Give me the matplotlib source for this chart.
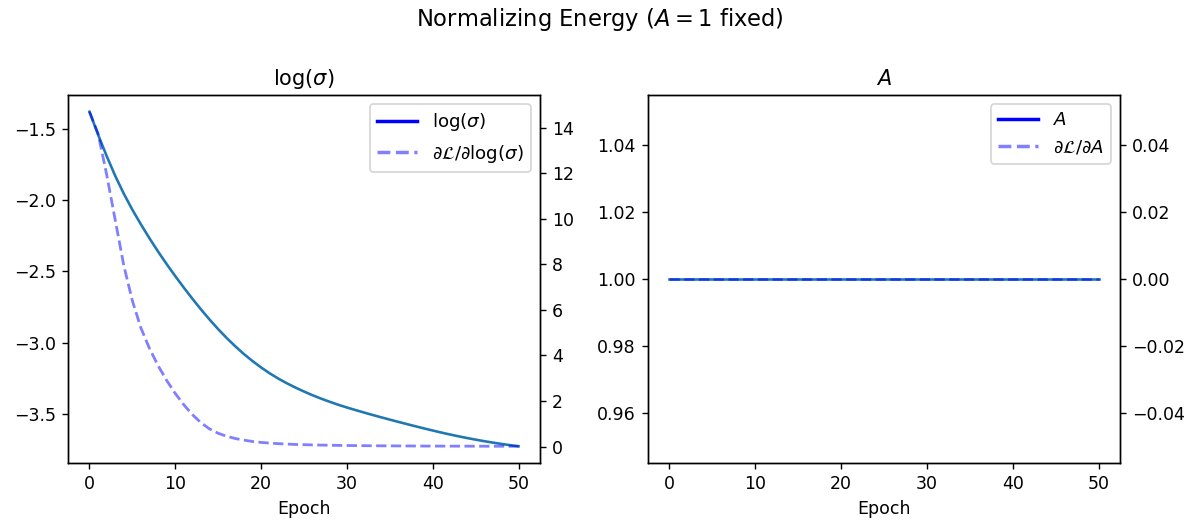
import matplotlib
matplotlib.use("Agg")
import matplotlib.pyplot as plt
from matplotlib.lines import Line2D

epochs = list(range(51))

log_sigma = [-1.380, -1.540, -1.690, -1.830, -1.955, -2.068, -2.171, -2.269, -2.362, -2.450,
             -2.534, -2.615, -2.693, -2.768, -2.839, -2.906, -2.969, -3.027, -3.081, -3.130,
             -3.175, -3.216, -3.253, -3.286, -3.316, -3.344, -3.370, -3.394, -3.416, -3.437,
             -3.456, -3.474, -3.4915, -3.5085, -3.525, -3.5412, -3.5571, -3.5727, -3.588, -3.603,
             -3.6177, -3.6319, -3.6454, -3.6582, -3.6703, -3.6817, -3.6924, -3.7024, -3.7117, -3.7203,
             -3.7282]

grad_log_sigma = [14.70, 13.75, 11.95, 9.95, 7.95, 6.40, 5.20, 4.30, 3.55, 2.90,
                  2.33, 1.83, 1.40, 1.04, 0.77, 0.58, 0.45, 0.35, 0.28, 0.22,
                  0.18, 0.15, 0.125, 0.105, 0.09, 0.08, 0.07, 0.062, 0.055, 0.049,
                  0.044, 0.040, 0.036, 0.033, 0.030, 0.028, 0.026, 0.024, 0.022, 0.020,
                  0.018, 0.017, 0.016, 0.015, 0.014, 0.013, 0.012, 0.011, 0.011, 0.010,
                  0.010]

A_vals = [1.0] * 51
grad_A = [0.0] * 51

DPI = 125
W, H = 1199, 522
fig = plt.figure(figsize=(W / DPI, H / DPI), dpi=DPI)
ax1 = fig.add_axes([68 / W, (H - 463) / H, 472 / W, 368 / H])
ax2 = fig.add_axes([648 / W, (H - 463) / H, 472 / W, 368 / H])

panels = [
    (ax1, log_sigma, grad_log_sigma, r"log($\sigma$)",
     r"log($\sigma$)", r"$\partial\mathcal{L}/\partial\log(\sigma)$"),
    (ax2, A_vals, grad_A, r"$A$", r"$A$", r"$\partial\mathcal{L}/\partial A$"),
]

for ax, vals, grads, title, lab1, lab2 in panels:
    ax.plot(epochs, vals, color="C0", lw=1.5)
    tw = ax.twinx()
    tw.plot(epochs, grads, color="blue", ls="--", lw=1.6, alpha=0.5)
    ax.set_title(title, fontsize=12)
    ax.set_xlabel("Epoch", fontsize=10)
    handles = [Line2D([0], [0], color="blue", lw=2),
               Line2D([0], [0], color="blue", lw=2, ls="--", alpha=0.5)]
    tw.legend(handles, [lab1, lab2], loc="upper right", fontsize=10.5,
              handlelength=2.2)

fig.suptitle(r"Normalizing Energy ($A = 1$ fixed)", fontsize=13, y=0.988)

fig.savefig("out.png", dpi=DPI)
